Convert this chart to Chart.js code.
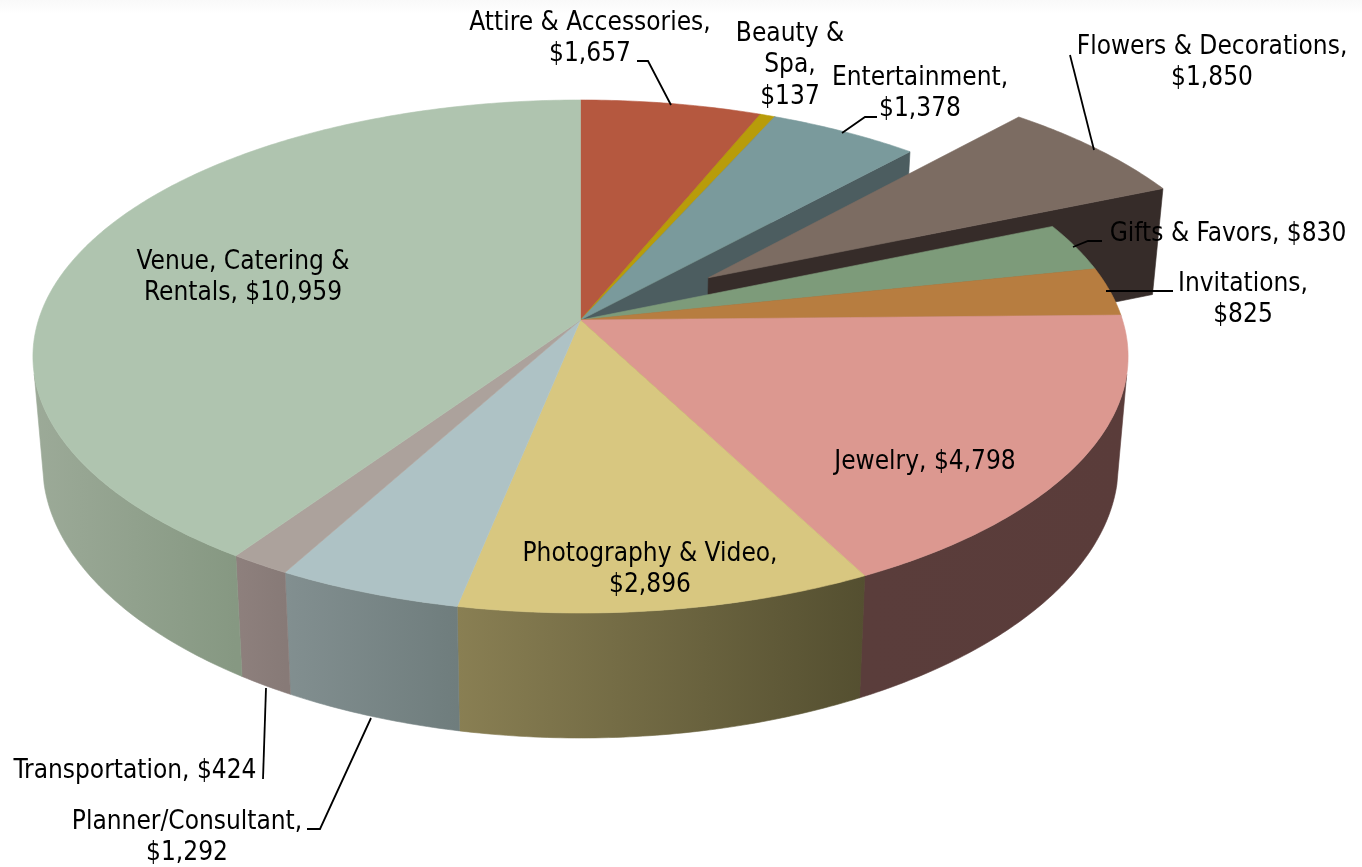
<!DOCTYPE html>
<html>
<head>
<meta charset="utf-8">
<title>Wedding budget</title>
<script src="https://cdn.jsdelivr.net/npm/chart.js@4"></script>
<style>
    html, body { margin: 0; padding: 0; background: linear-gradient(#f9f9f9, #ffffff 14px); }
    canvas { display: block; }
</style>
</head>
<body>
<canvas id="pieChart" width="1362" height="867"></canvas>
<script>
var categories = ["Attire & Accessories", "Beauty & Spa", "Entertainment", "Flowers & Decorations",
    "Gifts & Favors", "Invitations", "Jewelry", "Photography & Video", "Planner/Consultant",
    "Transportation", "Venue, Catering & Rentals"];
var amounts = [1657, 137, 1378, 1850, 830, 825, 4798, 2896, 1292, 424, 10959];
var explodedOffset = [0, 0, 0, 112, 0, 0, 0, 0, 0, 0, 0];

var topColors = ["#b5583f", "#b89c0a", "#7a9a9c", "#7c6c62", "#7d9b7a", "#b77d40",
    "#dc9890", "#d8c780", "#aec2c5", "#aca29c", "#afc4af"];
var wallLeft = ["#5f2e21", "#5f5005", "#4c5d60", "#362c29", "#46574a", "#5f4121",
    "#5a3d3b", "#897f53", "#828f90", "#8e807d", "#9caa98"];
var wallRight = ["#5f2e21", "#5f5005", "#4c5d60", "#362c29", "#46574a", "#5f4121",
    "#5a3c3a", "#544f30", "#6f7d7d", "#877a77", "#869882"];

// label centres, wrap width and the leader line, same order as categories
var labelX = [590, 790, 920, 1212, 1228, 1243, 925, 650, 187, 135, 243];
var labelY = [23, 34, 78, 47, 234, 284, 462, 554, 822, 771, 262];
var labelWrap = [280, 112, 200, 290, 300, 150, 300, 280, 260, 300, 240];
var leaders = [
    [[637, 61], [648, 61], [671, 105]],
    [],
    [[877, 117], [865, 117], [842, 133]],
    [[1070, 55], [1094, 150]],
    [[1102, 241], [1088, 241], [1073, 247]],
    [[1173, 291], [1106, 291]],
    [],
    [],
    [[307, 829], [320, 829], [371, 718]],
    [[263, 779], [266, 688]],
    []
];

// perspective of the pie plate
var view = { cx: 580.5, cy: 320, a: 542, b: 251.3, k: 0.1423, shrink: 0.982 };

function project(u, v, base) {
    var w = 1 - view.k * v;
    var x = view.a * u / w;
    var y = view.b * v / w;
    if (base) {
        x = x * view.shrink;
        y = y + 107.5 + 8 * v + 9.5 * v * v; // plate looks thicker towards the front
    }
    return { x: view.cx + x, y: view.cy + y };
}

function tracePolygon(ctx, points) {
    ctx.beginPath();
    points.forEach((p, i) => i == 0 ? ctx.moveTo(p.x, p.y) : ctx.lineTo(p.x, p.y));
    ctx.closePath();
}

function fillPolygon(ctx, points, color) {
    tracePolygon(ctx, points);
    ctx.fillStyle = color;
    ctx.strokeStyle = color;
    ctx.lineWidth = 0.6;
    ctx.fill();
    ctx.stroke();
}

function drawSlice(ctx, arc, index) {
    var offset = (arc.options.offset || 0) / arc.outerRadius;
    var mid = (arc.startAngle + arc.endAngle) / 2;
    var ox = offset * Math.cos(mid);
    var oy = offset * Math.sin(mid);
    var steps = Math.max(4, Math.ceil((arc.endAngle - arc.startAngle) * 90));
    var rim = [];
    for (let i = 0; i <= steps; i++) {
        let angle = arc.startAngle + (arc.endAngle - arc.startAngle) * i / steps;
        rim.push({ u: ox + Math.cos(angle), v: oy + Math.sin(angle), front: Math.sin(angle) > 0.2 });
    }

    // end wall, the radial face, only when it turns towards us
    var last = rim[rim.length - 1];
    if (Math.cos(arc.endAngle) > 0.01) {
        fillPolygon(ctx, [project(ox, oy), project(last.u, last.v), project(last.u, last.v, true), project(ox, oy, true)], wallLeft[index]);
    }

    // outer wall, shaded from left to right over the part facing us
    var front = rim.filter(p => p.front);
    if (front.length > 1) {
        let xs = front.map(p => project(p.u, p.v).x);
        let wallFill = ctx.createLinearGradient(Math.min(...xs), 0, Math.max(...xs), 0);
        wallFill.addColorStop(0, wallLeft[index]);
        wallFill.addColorStop(1, wallRight[index]);
        let strip = front.map(p => project(p.u, p.v)).concat(front.slice().reverse().map(p => project(p.u, p.v, true)));
        fillPolygon(ctx, strip, wallFill);
    }

    // top face
    fillPolygon(ctx, [project(ox, oy)].concat(rim.map(p => project(p.u, p.v))), arc.options.backgroundColor);
}

function wrapLabel(ctx, text, width) {
    var lines = [];
    var line = "";
    text.split(" ").forEach(word => {
        var next = line ? line + " " + word : word;
        if (line && ctx.measureText(next).width > width) {
            lines.push(line);
            line = word;
        } else {
            line = next;
        }
    });
    lines.push(line);
    return lines;
}

var pie3d = {
    id: "pie3d",
    beforeDatasetDraw: function (chart, args) {
        var ctx = chart.ctx;
        var meta = chart.getDatasetMeta(args.index);
        ctx.save();
        meta.data.forEach((arc, i) => drawSlice(ctx, arc, i));
        ctx.restore();
        return false;
    },
    afterDatasetsDraw: function (chart) {
        var ctx = chart.ctx;
        ctx.save();
        ctx.strokeStyle = "#000000";
        ctx.lineWidth = 1.8;
        leaders.forEach(points => {
            if (!points.length) return;
            ctx.beginPath();
            points.forEach((p, i) => i == 0 ? ctx.moveTo(p[0], p[1]) : ctx.lineTo(p[0], p[1]));
            ctx.stroke();
        });
        ctx.fillStyle = "#000000";
        ctx.font = '26px "DejaVu Sans Condensed"';
        ctx.textAlign = "center";
        ctx.textBaseline = "middle";
        categories.forEach((name, i) => {
            var text = name + ", $" + Intl.NumberFormat('en-US').format(amounts[i]);
            wrapLabel(ctx, text, labelWrap[i]).forEach((line, n) => {
                ctx.fillText(line, labelX[i], labelY[i] + n * 31.5);
            });
        });
        ctx.restore();
    }
};

var pieChart = new Chart(document.getElementById("pieChart"), {
    type: "pie",
    data: {
        labels: categories,
        datasets: [{
            data: amounts,
            backgroundColor: topColors,
            offset: explodedOffset,
            borderWidth: 0
        }]
    },
    options: {
        responsive: false,
        animation: false,
        events: [],
        plugins: {
            legend: { display: false },
            tooltip: { enabled: false }
        }
    },
    plugins: [pie3d]
});
</script>
</body>
</html>
